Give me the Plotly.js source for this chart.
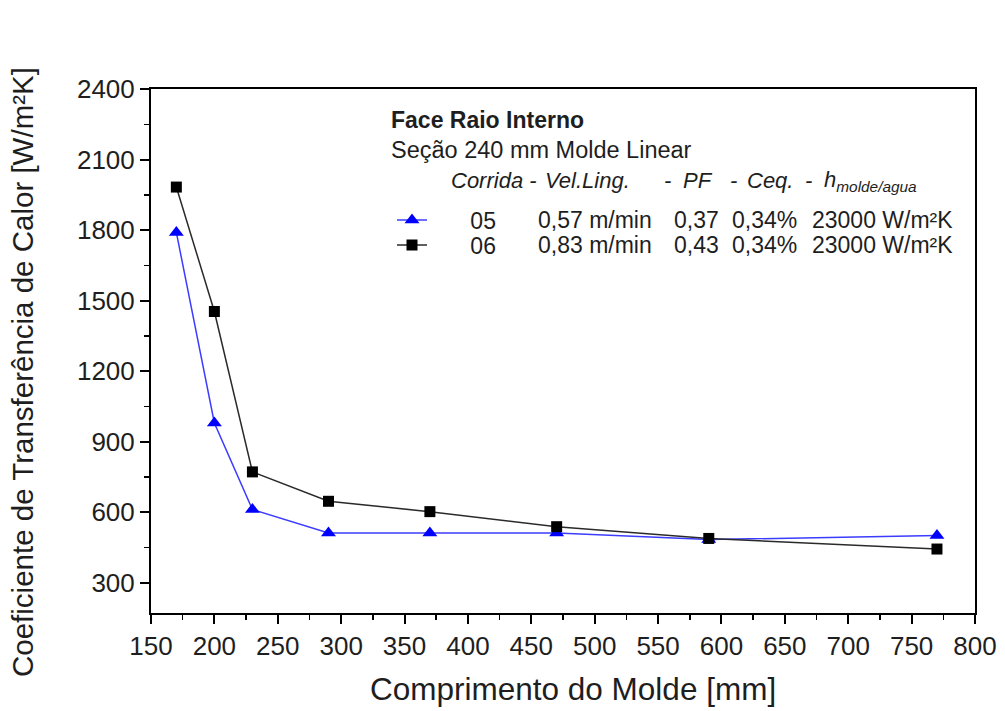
<!DOCTYPE html>
<html>
<head>
<meta charset="utf-8">
<script src="https://cdn.plot.ly/plotly-3.0.1.min.js"></script>
<style>html,body{margin:0;padding:0;background:#fff;}#chart{width:1005px;height:711px;}</style>
</head>
<body>
<div id="chart"></div>
<script>
// ---- data ----
const moldLength = [170, 200, 230, 290, 370, 470, 590, 770];          // mm
const run05 = [1790, 980, 612, 512, 512, 512, 484, 502];              // W/m²K
const run06 = [1983, 1454, 772, 647, 603, 539, 489, 444];             // W/m²K
const run05Info = ['0,57 m/min', '0,37', '0,34%', '23000 W/m²K'];
const run06Info = ['0,83 m/min', '0,43', '0,34%', '23000 W/m²K'];
const headerParts = ['Corrida -', 'Vel.Ling.', '-', 'PF', '-', 'Ceq.', '-', 'h<sub>molde/agua</sub>'];
const xTitle = 'Comprimento do Molde [mm]';
const yTitle = 'Coeficiente de Transferência de Calor [W/m²K]';

// ---- layout helpers (pixel -> paper) ----
const L = 151, R = 975, T = 89, B = 613;
const px = x => (x - L) / (R - L);
const py = y => (B - y) / (B - T);
const FONT = 'Liberation Sans, Arial, Helvetica, sans-serif';
const TXT = '#1e1e1e';
const NB = '\u00a0';

const traces = [
  {
    x: moldLength, y: run05, name: NB.repeat(6) + '05', mode: 'lines+markers',
    line: {color: '#3c3cff', width: 1.5},
    marker: {symbol: 'triangle-up', size: 13, color: '#0000ff'},
    legend: 'legend'
  },
  {
    x: moldLength, y: run06, name: NB.repeat(6) + '06', mode: 'lines+markers',
    line: {color: '#2a2a2a', width: 1.5},
    marker: {symbol: 'square', size: 11, color: '#000000'},
    legend: 'legend2'
  }
];

function ann(text, x, y, size, extra) {
  return Object.assign({
    text: text, x: px(x), y: py(y), xref: 'paper', yref: 'paper',
    xanchor: 'left', yanchor: 'middle', showarrow: false,
    font: {family: FONT, size: size, color: TXT}
  }, extra || {});
}

const headerX = [449, 543, 662, 681, 728, 745, 803, 822];
const colX = [536, 672, 730, 810];
const annotations = [
  ann('<b>Face Raio Interno</b>', 389, 120, 23),
  ann('Seção 240 mm Molde Linear', 389, 150, 23.5),
  {
    text: yTitle, x: px(22), y: py(372), xref: 'paper', yref: 'paper',
    textangle: -90, showarrow: false, xanchor: 'center', yanchor: 'middle',
    font: {family: FONT, size: 29.5, color: TXT}
  },
  {
    text: xTitle, x: px(573), y: py(689), xref: 'paper', yref: 'paper',
    showarrow: false, xanchor: 'center', yanchor: 'middle',
    font: {family: FONT, size: 31.5, color: TXT}
  }
];
headerParts.forEach((t, i) => annotations.push(ann('<i>' + t + '</i>', headerX[i], 181, 22)));
run05Info.forEach((t, i) => annotations.push(ann(t, colX[i], 220, 23)));
run06Info.forEach((t, i) => annotations.push(ann(t, colX[i], 245, 23)));

const legendBase = {
  xanchor: 'left', yanchor: 'middle', bgcolor: 'rgba(0,0,0,0)', borderwidth: 0,
  font: {family: FONT, size: 23, color: TXT}, itemclick: false, itemdoubleclick: false
};

const axisCommon = {
  showline: true, linecolor: '#000', linewidth: 2, mirror: true,
  ticks: 'outside', ticklen: 9, tickwidth: 2, tickcolor: '#000',
  showgrid: false, zeroline: false,
  tickfont: {family: FONT, size: 26, color: TXT}
};

const layout = {
  width: 1005, height: 711,
  paper_bgcolor: '#fff', plot_bgcolor: '#fff',
  margin: {l: L, r: 1005 - R, t: T, b: 711 - B},
  showlegend: true,
  legend: Object.assign({x: px(392), y: py(220)}, legendBase),
  legend2: Object.assign({x: px(392), y: py(245)}, legendBase),
  xaxis: Object.assign({}, axisCommon, {
    range: [150, 800], dtick: 50, tick0: 150,
    minor: {dtick: 25, ticklen: 5, tickwidth: 1.5, tickcolor: '#000', ticks: 'outside'}
  }),
  yaxis: Object.assign({}, axisCommon, {
    range: [172, 2400], dtick: 300, tick0: 300,
    minor: {dtick: 150, ticklen: 5, tickwidth: 1.5, tickcolor: '#000', ticks: 'outside'}
  }),
  annotations: annotations
};

Plotly.newPlot('chart', traces, layout, {displayModeBar: false, staticPlot: true});
</script>
</body>
</html>
